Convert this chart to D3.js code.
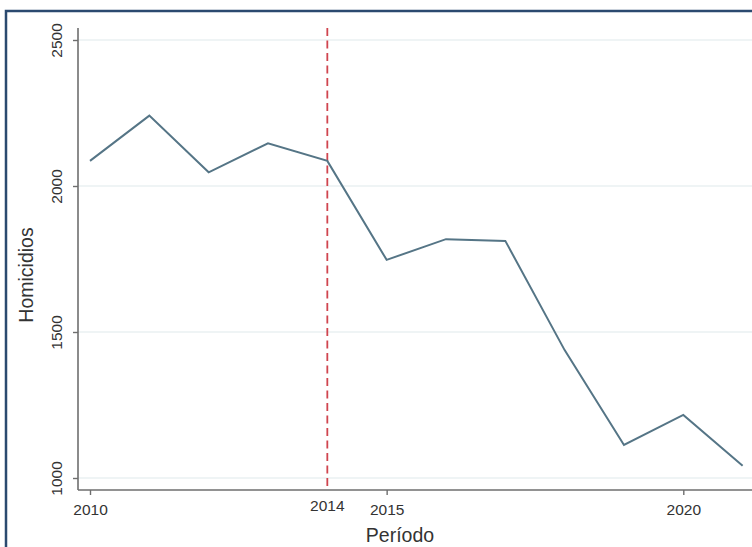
<!DOCTYPE html>
<html>
<head>
<meta charset="utf-8">
<script src="https://cdn.jsdelivr.net/npm/d3@7"></script>
<style>
  html, body { margin: 0; padding: 0; background: #fff; }
  svg { display: block; font-family: "Liberation Sans", Arial, sans-serif; }
</style>
</head>
<body>
<svg id="chart" width="752" height="547"></svg>
<script>
// Annual homicide counts
const years = [2010, 2011, 2012, 2013, 2014, 2015, 2016, 2017, 2018, 2019, 2020, 2021];
const homicides = [2086, 2241, 2047, 2146, 2086, 1747, 1818, 1812, 1438, 1113, 1216, 1042];
const yTicks = [1000, 1500, 2000, 2500];
const xTicks = [2010, 2015, 2020];
const breakYear = 2014;

const svg = d3.select("#chart");

// outer frame (runs past the right and bottom edges)
svg.append("rect")
  .attr("x", 6).attr("y", 11)
  .attr("width", 800).attr("height", 600)
  .attr("fill", "none")
  .attr("stroke", "#2b4a6f")
  .attr("stroke-width", 2.5);

const x = d3.scaleLinear().domain([2010, 2020]).range([90, 683.3]);
const y = d3.scaleLinear().domain([1000, 2500]).range([478, 40]);
const axisX0 = 78, axisY0 = 490;
const tickFont = 15.5, titleFont = 19.5;

// gridlines
svg.append("g").selectAll("line").data(yTicks).join("line")
  .attr("x1", axisX0).attr("x2", 752)
  .attr("y1", d => y(d)).attr("y2", d => y(d))
  .attr("stroke", "#eaf0f2").attr("stroke-width", 1.5);

// y axis
const yAxis = svg.append("g")
  .attr("transform", `translate(${axisX0},0)`)
  .call(d3.axisLeft(y).tickValues(yTicks).tickSize(5).tickSizeOuter(0).tickFormat(d3.format("d")));
yAxis.select(".domain").remove();
yAxis.append("line").attr("x1", 0).attr("x2", 0).attr("y1", 28).attr("y2", axisY0)
  .attr("stroke", "#6e6e6e").attr("stroke-width", 1.6);
yAxis.selectAll(".tick line").attr("stroke", "#6e6e6e").attr("stroke-width", 1.4);
yAxis.selectAll(".tick text")
  .attr("fill", "#333").attr("font-size", tickFont)
  .attr("x", 0).attr("dy", 0)
  .attr("text-anchor", "middle")
  .attr("transform", "translate(-16,0) rotate(-90)");

// x axis
const xAxis = svg.append("g")
  .attr("transform", `translate(0,${axisY0})`)
  .call(d3.axisBottom(x).tickValues(xTicks).tickSize(5).tickSizeOuter(0).tickFormat(d3.format("d")));
xAxis.select(".domain").remove();
xAxis.append("line").attr("x1", axisX0).attr("x2", 752).attr("y1", 0).attr("y2", 0)
  .attr("stroke", "#6e6e6e").attr("stroke-width", 1.6);
xAxis.selectAll(".tick line").attr("stroke", "#6e6e6e").attr("stroke-width", 1.4);
xAxis.selectAll(".tick text")
  .attr("fill", "#333").attr("font-size", tickFont)
  .attr("y", 25).attr("dy", 0);

// break-year label
svg.append("text")
  .attr("x", x(breakYear)).attr("y", 511)
  .attr("text-anchor", "middle")
  .attr("fill", "#333").attr("font-size", tickFont)
  .text(String(breakYear));

// vertical dashed marker
svg.append("line")
  .attr("x1", x(breakYear)).attr("x2", x(breakYear))
  .attr("y1", 28).attr("y2", axisY0)
  .attr("stroke", "#d0454f").attr("stroke-width", 1.8)
  .attr("stroke-dasharray", "8,4.5");

// series line
const line = d3.line().x((d, i) => x(years[i])).y(d => y(d));
svg.append("path")
  .datum(homicides)
  .attr("d", line)
  .attr("fill", "none")
  .attr("stroke", "#557586")
  .attr("stroke-width", 2)
  .attr("stroke-linejoin", "miter");

// axis titles
svg.append("text")
  .attr("x", 400).attr("y", 542)
  .attr("text-anchor", "middle")
  .attr("fill", "#333").attr("font-size", titleFont)
  .text("Período");

svg.append("text")
  .attr("transform", "translate(33,275) rotate(-90)")
  .attr("text-anchor", "middle")
  .attr("fill", "#333").attr("font-size", titleFont)
  .text("Homicidios");
</script>
</body>
</html>
